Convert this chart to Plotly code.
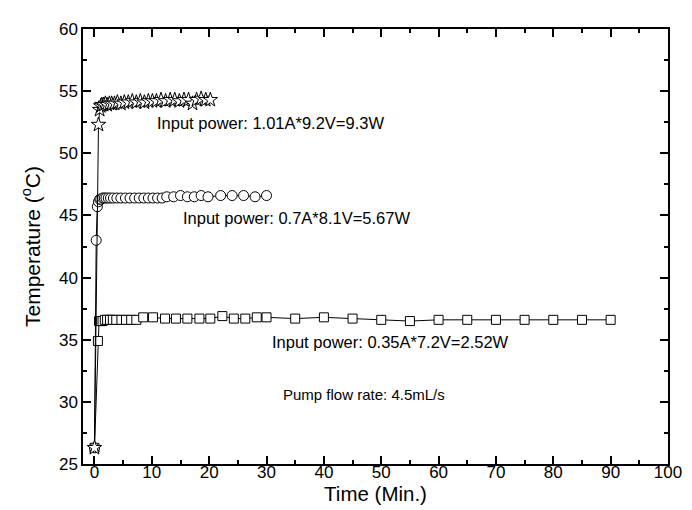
import plotly.graph_objects as go

# --- data ---
t_925 = [0, 0.7, 0.9, 1.1, 1.3, 1.6, 1.9, 2.2, 2.6, 3.0, 3.5, 4.0, 4.6, 5.2, 5.9, 6.6, 7.3, 8.0, 8.7, 9.4,
         10.1, 10.8, 11.6, 12.4, 13.2, 14.0, 14.8, 15.6, 16.4, 17.1, 17.8, 18.6, 19.4, 20.2]
T_925 = [26.3, 52.3, 53.5, 53.8, 53.9, 53.9, 54.0, 53.9, 54.0, 54.0, 54.0, 54.1, 54.0, 54.1, 54.1, 54.2, 54.1,
         54.2, 54.1, 54.2, 54.2, 54.2, 54.3, 54.2, 54.3, 54.3, 54.2, 54.3, 54.3, 54.0, 54.3, 54.4, 54.3, 54.3]

t_567 = [0, 0.3, 0.5, 0.7, 0.9, 1.1, 1.4, 1.7, 2.0, 2.4, 2.8, 3.3, 3.9, 4.6, 5.4, 6.2, 7.0, 7.8, 8.6, 9.4,
         10.2, 11.0, 11.8, 12.6, 13.8, 15.0, 16.2, 17.4, 18.6, 19.8, 22, 24, 26, 28, 30]
T_567 = [26.3, 43.0, 45.7, 46.1, 46.3, 46.3, 46.4, 46.4, 46.4, 46.4, 46.4, 46.4, 46.4, 46.4, 46.4, 46.4, 46.4,
         46.4, 46.4, 46.4, 46.4, 46.4, 46.4, 46.5, 46.5, 46.6, 46.5, 46.5, 46.6, 46.5, 46.6, 46.6, 46.6, 46.5, 46.6]

t_252 = [0, 0.6, 0.8, 1.1, 1.4, 1.8, 2.2, 2.7, 3.2, 3.8, 4.7, 5.5, 6.4, 7.3, 8.5, 10.2, 12.3, 14.2, 16.2,
         18.3, 20.2, 22.3, 24.3, 26.3, 28.3, 30, 35, 40, 45, 50, 55, 60, 65, 70, 75, 80, 85, 90]
T_252 = [26.3, 34.9, 36.5, 36.5, 36.5, 36.6, 36.6, 36.6, 36.6, 36.6, 36.6, 36.6, 36.6, 36.6, 36.8, 36.8, 36.7,
         36.7, 36.7, 36.7, 36.7, 36.9, 36.7, 36.7, 36.8, 36.8, 36.7, 36.8, 36.7, 36.6, 36.5, 36.6, 36.6, 36.6,
         36.6, 36.6, 36.6, 36.6]

labels = ["Input power: 1.01A*9.2V=9.3W", "Input power: 0.7A*8.1V=5.67W", "Input power: 0.35A*7.2V=2.52W"]
label_x = [10.6, 15.0, 30.6]
label_y = [52.4, 44.8, 34.8]
note = "Pump flow rate: 4.5mL/s"
note_x = 47.0
note_y = 30.6

x_ticks = list(range(0, 101, 10))
y_ticks = list(range(25, 61, 5))

FONT = "Liberation Sans, Arial, sans-serif"

fig = go.Figure()
series = [
    (t_252, T_252, "square", 9),
    (t_567, T_567, "circle", 10),
    (t_925, T_925, "star", 11),
]
for xs, ys, sym, sz in series:
    fig.add_trace(go.Scatter(
        x=xs, y=ys, mode="lines+markers",
        line=dict(color="black", width=1),
        marker=dict(symbol=sym, size=sz, color="white",
                    line=dict(color="black", width=1)),
        showlegend=False,
    ))

for txt, lx, ly in zip(labels, label_x, label_y):
    fig.add_annotation(x=lx, y=ly, text=txt, showarrow=False, xanchor="left",
                       yanchor="middle", font=dict(size=16.5, color="black", family=FONT))
fig.add_annotation(x=note_x, y=note_y, text=note, showarrow=False, xanchor="center", yanchor="middle",
                   font=dict(size=15, color="black", family=FONT))

axis_common = dict(
    showgrid=False, zeroline=False, showline=True, linecolor="black", linewidth=1.5,
    mirror="ticks", ticks="inside", ticklen=8, tickwidth=1.5, tickcolor="black",
    tickfont=dict(size=17, color="black", family=FONT),
)
fig.update_xaxes(range=[-2, 100], tickvals=x_ticks, ticklabelstandoff=-8,
                 minor=dict(ticks="inside", ticklen=4, tickwidth=1.5, tickcolor="black", dtick=5, tick0=0),
                 title=dict(text="Time (Min.)", font=dict(size=20.5, color="black", family=FONT), standoff=0),
                 **axis_common)
fig.update_yaxes(range=[25, 60], tickvals=y_ticks,
                 minor=dict(ticks="inside", ticklen=4, tickwidth=1.5, tickcolor="black", dtick=2.5, tick0=25),
                 title=dict(text="Temperature (<sup>o</sup>C)", font=dict(size=21, color="black", family=FONT), standoff=13),
                 **axis_common)

fig.update_layout(
    width=692, height=510,
    margin=dict(l=75, r=32, t=17, b=54),
    plot_bgcolor="white", paper_bgcolor="white",
    font=dict(family=FONT, color="black"),
)

fig.write_html("out.html")
